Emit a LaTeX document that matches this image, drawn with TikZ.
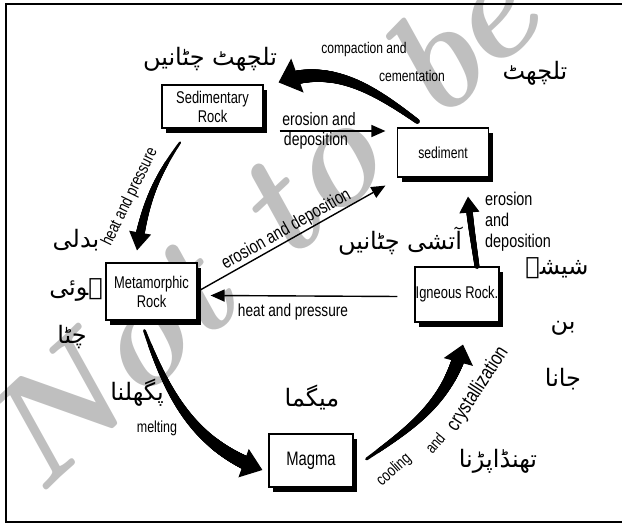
\documentclass[tikz,border=0pt]{standalone}
\usepackage{fontspec}
\usepackage{tikz}
\usetikzlibrary{positioning}
\usetikzlibrary{arrows.meta,decorations.markings,shadows}
\newfontfamily\boxfont{Liberation Sans}[FakeStretch=0.76]
\newfontfamily\labfont{Liberation Sans}[FakeStretch=0.78]
\newfontfamily\urdufont[Script=Arabic]{DejaVu Sans}
\TeXXeTstate=1

% thick arrow whose body widens from tail to head
\tikzset{
  fat/.style n args={3}{postaction={decorate, decoration={markings,
      mark=between positions 0 and -#3 step 0.5pt with {
        \pgfmathsetmacro\halfw{#1+(#2-#1)*\pgfkeysvalueof{/pgf/decoration/mark info/distance from start}/\pgfdecoratedpathlength}
        \fill (0,0) circle (\halfw pt);}}}},
}

\begin{document}
\begin{tikzpicture}[x=1pt, y=1pt,
    rock/.style = {draw, line width=1.2pt, fill=white, align=center, inner sep=0pt,
                   font=\boxfont\fontsize{17}{19}\selectfont,
                   drop shadow={shadow xshift=4pt, shadow yshift=-5pt, fill=black, opacity=1}},
    lbl/.style = {font=\labfont\fontsize{#1}{21}\selectfont, inner sep=1pt},
    lbl/.default = 17.5,
    urdu/.style = {font=\urdufont\fontsize{24}{28}\selectfont},
    flow/.style = {-{Triangle[length=14pt,width=12pt]}, line width=1.4pt}]

    \useasboundingbox (0,0) rectangle (622,524);
    \node[text=black!25, rotate=43, font=\fontsize{148}{148}\selectfont\bfseries\itshape] (mark) at (258,300) {Not to be};
    \draw[line width=2pt] (622,520) -- (5.5,520) -- (5.5,1.5) -- (622,1.5);

    \node[rock, minimum width=101, minimum height=43] (sedrock) at (212.5,417.5) {Sedimentary\\Rock};
    \node[rock, minimum width=91, minimum height=49, font=\boxfont\fontsize{16}{18}\selectfont] (sediment) at (443,371.5) {sediment};
    \node[rock, minimum width=91, minimum height=57] (metarock) at (151.5,232.5) {Metamorphic\\Rock};
    \node[rock, minimum width=84, minimum height=55] (igneous) at (457,229.5) {Igneous Rock.};
    \node[rock, minimum width=84, minimum height=53, font=\boxfont\fontsize{19.5}{20}\selectfont] (magma) at (311,63.5) {Magma};

    \draw[fat={2.5}{7.5}{20pt}, -{Triangle[length=20pt,width=36pt]}, line width=1pt]
        ([shift={(20.5,6)}]sediment.north west) to[out=144, in=20] ([shift={(15,2)}]sedrock.north east);
    \draw[fat={1.2}{5}{18pt}, -{Triangle[length=18pt,width=22pt]}, line width=1pt]
        ([shift={(-32.5,-14)}]sedrock.south) to[out=235, in=80] ([shift={(-14.5,12)}]metarock.north);
    \draw[fat={1.5}{7.5}{20pt}, -{Triangle[length=20pt,width=30pt]}, line width=1pt]
        ([shift={(-7,-10)}]metarock.south) to[out=290, in=160] ([shift={(-6,-9.5)}]magma.west);
    \draw[fat={1.5}{7}{18pt}, -{Triangle[length=18pt,width=30pt]}, line width=1pt]
        ([shift={(13,1.5)}]magma.east) to[out=35, in=255] ([shift={(6,-22)}]igneous.south);
    \draw[fat={2.5}{3.5}{16pt}, -{Triangle[length=16pt,width=20pt]}, line width=1pt]
        ([shift={(20,0)}]igneous.north) to[out=98, in=275] ([shift={(25,-19)}]sediment.south);

    \draw[flow] ([shift={(16,-24.5)}]sedrock.east) -- ([shift={(-11.5,21.5)}]sediment.west);
    \draw[flow] (metarock.east) -- ([shift={(-11.5,-8)}]sediment.south west)
        node[lbl=18.5, midway, above, sloped] {erosion and deposition};
    \draw[flow] ([shift={(-17,-2)}]igneous.west) -- ([shift={(13,-4)}]metarock.east);

    \node[lbl=15.5] (compact) at (364,474) {compaction and};
    \node[lbl=15.5] (cement) at (412,448) {cementation};
    \node[lbl=18] (erotop) at (319,405) {erosion and};
    \node[lbl=18] (deptop) at (316,383) {deposition};
    \node[lbl=17, rotate=64] (heatleft) at (130,327) {heat and pressure};
    \node[lbl] (heatmid) at (293,212) {heat and pressure};
    \node[lbl=16] (melt) at (157,96) {melting};
    \node[lbl=16.3, rotate=42] (cool) at (394,54) {cooling};
    \node[lbl=16, rotate=50] (cooland) at (435,81) {and};
    \node[lbl=20.5, rotate=57] (cryst) at (478,135) {crystallization};
    \node[lbl=18.5, align=left, anchor=west] (eroright) at (484,302) {erosion\\and\\deposition};

    \node[urdu] (sedur) at (210,465) {\beginR تلچھٹ چٹانیں\endR};
    \node[urdu] (sedimur) at (535,451) {\beginR تلچھٹ\endR};
    \node[urdu] (metaur1) at (76,284) {\beginR بدلی\endR};
    \node[urdu] (metaur2) at (76,234) {\beginR ہوئی\endR};
    \node[urdu] (metaur3) at (72,187) {\beginR چٹا\endR};
    \node[urdu] (ignur) at (400,283) {\beginR آتشی چٹانیں\endR};
    \node[urdu] (glass1) at (557,256) {\beginR شیشہ\endR};
    \node[urdu] (glass2) at (563,196) {\beginR بن\endR};
    \node[urdu] (glass3) at (563,145) {\beginR جانا\endR};
    \node[urdu] (magur) at (312,126) {\beginR میگما\endR};
    \node[urdu] (meltur) at (137,131) {\beginR پگھلنا\endR};
    \node[urdu] (coolur) at (498,63) {\beginR تھنڈاپڑنا\endR};
\end{tikzpicture}
\end{document}
